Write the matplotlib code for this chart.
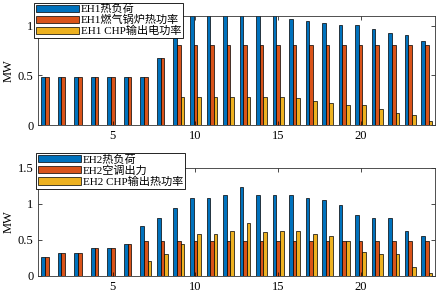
import matplotlib.pyplot as plt
import numpy as np

plt.rcParams["font.family"] = ["Liberation Serif", "Noto Sans CJK SC"]
plt.rcParams["xtick.direction"] = "in"
plt.rcParams["ytick.direction"] = "in"

hours = np.arange(1, 25)

# EH1 (MW)
eh1_load = [0.48, 0.48, 0.48, 0.48, 0.48, 0.48, 0.48, 0.68,
            1.15, 1.15, 1.15, 1.15, 1.15, 1.15, 1.15, 1.07,
            1.05, 1.03, 1.01, 1.01, 0.97, 0.93, 0.91, 0.85]
eh1_boiler = [0.48, 0.48, 0.48, 0.48, 0.48, 0.48, 0.48, 0.68,
              0.81, 0.81, 0.81, 0.81, 0.81, 0.81, 0.81, 0.81,
              0.81, 0.81, 0.81, 0.81, 0.81, 0.81, 0.81, 0.81]
eh1_chp = [0, 0, 0, 0, 0, 0, 0, 0,
           0.28, 0.28, 0.28, 0.28, 0.28, 0.28, 0.28, 0.27,
           0.24, 0.22, 0.20, 0.20, 0.16, 0.12, 0.10, 0.04]
eh1_labels = ["EH1热负荷", "EH1燃气锅炉热功率", "EH1 CHP输出电功率"]

# EH2 (MW)
eh2_load = [0.26, 0.32, 0.32, 0.39, 0.39, 0.45, 0.70, 0.81,
            0.94, 1.08, 1.08, 1.13, 1.23, 1.12, 1.12, 1.13,
            1.09, 1.05, 0.98, 0.85, 0.81, 0.80, 0.63, 0.55]
eh2_ac = [0.26, 0.32, 0.32, 0.39, 0.39, 0.45, 0.49, 0.49,
          0.49, 0.49, 0.49, 0.49, 0.49, 0.49, 0.49, 0.49,
          0.49, 0.49, 0.49, 0.49, 0.49, 0.49, 0.49, 0.49]
eh2_chp = [0, 0, 0, 0, 0, 0, 0.21, 0.30,
           0.44, 0.58, 0.59, 0.63, 0.74, 0.61, 0.62, 0.63,
           0.59, 0.56, 0.48, 0.34, 0.31, 0.30, 0.12, 0.04]
eh2_labels = ["EH2热负荷", "EH2空调出力", "EH2 CHP输出热功率"]

colors = ["#0072BD", "#D95319", "#EDB120"]

fig = plt.figure(figsize=(4.39, 2.95), dpi=100)
W, H = 439, 295
ax1 = fig.add_axes([38.5 / W, 1 - 125 / H, (435 - 38.5) / W, (125 - 16) / H])
ax2 = fig.add_axes([38.5 / W, 1 - 276 / H, (435 - 38.5) / W, (276 - 168) / H])


def draw(ax, series, labels, ylim, yticks, anchor):
    w = 0.22
    handles = []
    for k, (vals, col) in enumerate(zip(series, colors)):
        b = ax.bar(hours + (k - 1) * w, vals, width=w, color=col,
                   edgecolor="black", linewidth=0.5)
        handles.append(b)
    ax.set_xlim(0.5, 24.5)
    ax.set_ylim(*ylim)
    ax.set_xticks([5, 10, 15, 20])
    ax.set_yticks(yticks)
    ax.set_yticklabels([f"{t:g}" for t in yticks])
    ax.tick_params(labelsize=9, top=True, right=True, length=3, width=0.5)
    for s in ax.spines.values():
        s.set_linewidth(0.6)
        s.set_color("#333333")
    ax.set_ylabel("MW", fontsize=9, labelpad=2)
    leg = fig.legend(handles, labels, loc="upper left", bbox_to_anchor=anchor,
                     bbox_transform=fig.transFigure, fontsize=8, frameon=True,
                     fancybox=False, edgecolor="black", framealpha=1,
                     borderpad=0.15, labelspacing=0.05, handlelength=3.9,
                     handleheight=0.6, handletextpad=0.15, borderaxespad=0)
    leg.get_frame().set_linewidth(0.6)


draw(ax1, [eh1_load, eh1_boiler, eh1_chp], eh1_labels, (0, 1.1), [0, 0.5, 1],
     (34 / W, 1 - 2.5 / H))
draw(ax2, [eh2_load, eh2_ac, eh2_chp], eh2_labels, (0, 1.5), [0, 0.5, 1, 1.5],
     (36 / W, 1 - 153 / H))

fig.savefig("out.png", dpi=100)
